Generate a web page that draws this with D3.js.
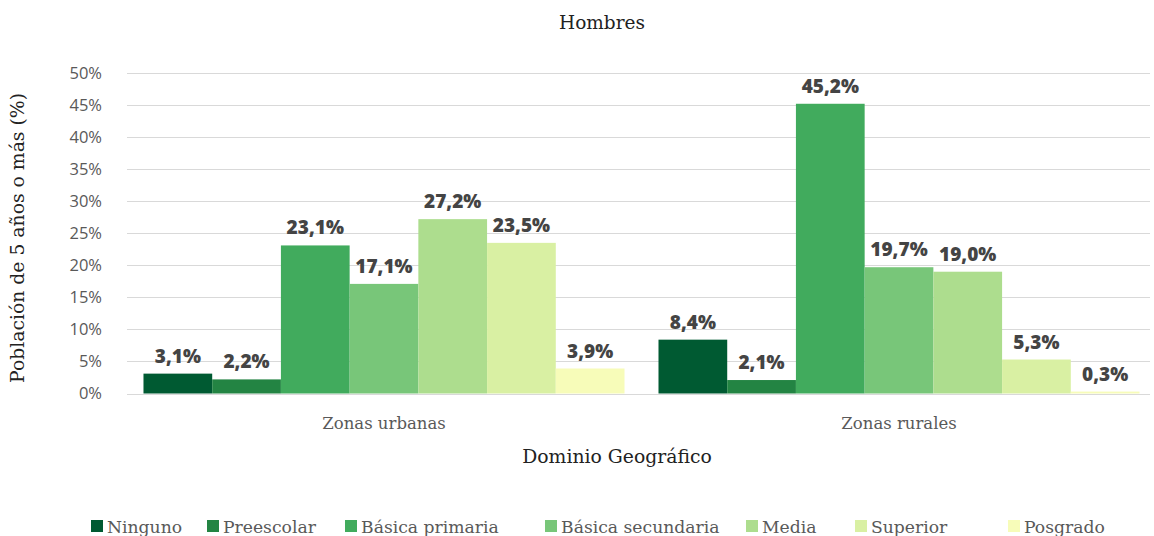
<!DOCTYPE html>
<html>
<head>
<meta charset="utf-8">
<script src="https://cdn.jsdelivr.net/npm/d3@7"></script>
<style>
  body { margin: 0; background: #fff; }
  svg { display: block; }
</style>
</head>
<body>
<svg id="chart"></svg>
<script>
var zonas = ["Zonas urbanas", "Zonas rurales"];
var niveles = ["Ninguno", "Preescolar", "Básica primaria", "Básica secundaria", "Media", "Superior", "Posgrado"];
var urbanas = [3.1, 2.2, 23.1, 17.1, 27.2, 23.5, 3.9];
var rurales = [8.4, 2.1, 45.2, 19.7, 19.0, 5.3, 0.3];
var yTicks = [0, 5, 10, 15, 20, 25, 30, 35, 40, 45, 50];
var colores = ["#005a32", "#238443", "#41ab5d", "#78c679", "#addd8e", "#d9f0a3", "#f7fcb9"];

var width = 1154, height = 536;
var serif = "'DejaVu Serif', serif";
var sans = "'Open Sans', 'Noto Sans', sans-serif";

var svg = d3.select("#chart")
  .attr("width", width)
  .attr("height", height);

var rows = zonas.map(function (z, i) {
  return { zona: z, valores: i === 0 ? urbanas : rurales };
});

var x0 = d3.scaleBand()
  .domain(zonas)
  .range([127, 1156])
  .paddingInner(0.066)
  .paddingOuter(0.032);

var x1 = d3.scaleBand()
  .domain(niveles)
  .range([0, x0.bandwidth()]);

var y = d3.scaleLinear()
  .domain([0, 50])
  .range([393.5, 73]);

// gridlines
svg.append("g")
  .selectAll("line")
  .data(yTicks)
  .join("line")
    .attr("x1", 127)
    .attr("x2", 1150)
    .attr("y1", function (d) { return Math.round(y(d)) + 0.5; })
    .attr("y2", function (d) { return Math.round(y(d)) + 0.5; })
    .style("stroke", "#d9d9d9")
    .style("stroke-width", 1);

// y axis labels
var yAxis = svg.append("g")
  .attr("transform", "translate(102,0)")
  .call(d3.axisLeft(y).tickValues(yTicks).tickSize(0).tickPadding(0)
    .tickFormat(function (d) { return d + "%"; }));
yAxis.select(".domain").remove();
yAxis.selectAll("text")
  .style("font-family", sans)
  .style("font-size", "16.5px")
  .style("fill", "#595959");

// bars
var groups = svg.append("g")
  .selectAll("g")
  .data(rows)
  .join("g")
    .attr("transform", function (d) { return "translate(" + x0(d.zona) + ",0)"; });

groups.selectAll("rect")
  .data(function (d) { return d.valores; })
  .join("rect")
    .attr("x", function (d, i) { return x1(niveles[i]); })
    .attr("y", function (d) { return y(d); })
    .attr("width", x1.bandwidth())
    .attr("height", function (d) { return y(0) - y(d); })
    .style("fill", function (d, i) { return colores[i]; });

groups.selectAll("text")
  .data(function (d) { return d.valores; })
  .join("text")
    .attr("x", function (d, i) { return x1(niveles[i]) + x1.bandwidth() / 2; })
    .attr("y", function (d) { return y(d) - 11; })
    .attr("text-anchor", "middle")
    .style("font-family", sans)
    .style("font-weight", "800")
    .style("font-size", "19px")
    .style("fill", "#444")
    .text(function (d) { return d.toFixed(1).replace(".", ",") + "%"; });

// x axis category labels
var xAxis = svg.append("g")
  .attr("transform", "translate(0,415)")
  .call(d3.axisBottom(x0).tickSize(0).tickPadding(0));
xAxis.select(".domain").remove();
xAxis.selectAll("text")
  .attr("dy", "0.85em")
  .style("font-family", serif)
  .style("font-size", "16.5px")
  .style("fill", "#595959");

// titles
svg.append("text")
  .attr("x", 602)
  .attr("y", 29)
  .attr("text-anchor", "middle")
  .style("font-family", serif)
  .style("font-size", "18.5px")
  .style("fill", "#222")
  .text("Hombres");

svg.append("text")
  .attr("x", 617)
  .attr("y", 463)
  .attr("text-anchor", "middle")
  .style("font-family", serif)
  .style("font-size", "18.8px")
  .style("fill", "#222")
  .text("Dominio Geográfico");

svg.append("text")
  .attr("transform", "translate(24,238) rotate(-90)")
  .attr("text-anchor", "middle")
  .style("font-family", serif)
  .style("font-size", "18.8px")
  .style("fill", "#222")
  .text("Población de 5 años o más (%)");

// legend
var legendX = [91, 207, 345, 545, 746, 855, 1008];
var legend = svg.append("g")
  .selectAll("g")
  .data(niveles)
  .join("g")
    .attr("transform", function (d, i) { return "translate(" + legendX[i] + ",520)"; });

legend.append("rect")
  .attr("width", 12)
  .attr("height", 12)
  .style("fill", function (d, i) { return colores[i]; });

legend.append("text")
  .attr("x", 16)
  .attr("y", 12.5)
  .style("font-family", serif)
  .style("font-size", "17.2px")
  .style("fill", "#595959")
  .text(function (d) { return d; });
</script>
</body>
</html>
